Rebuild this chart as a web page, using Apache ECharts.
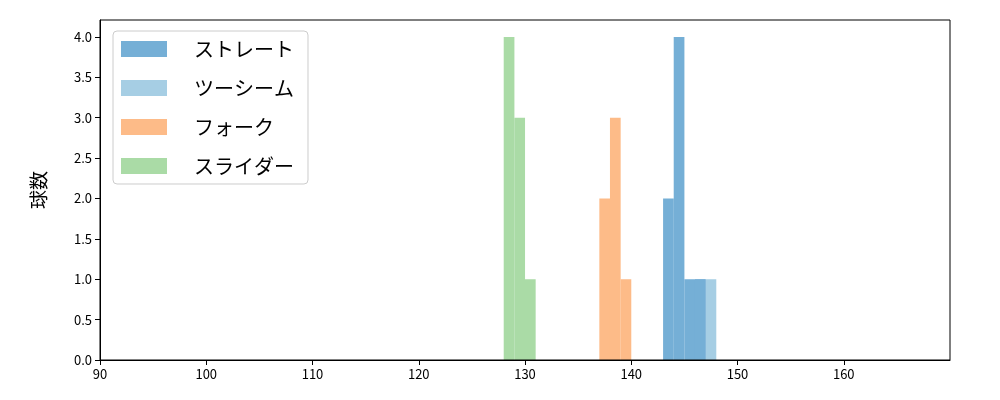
<!DOCTYPE html>
<html><head><meta charset="utf-8">
<script src="https://cdn.jsdelivr.net/npm/echarts@6/dist/echarts.min.js"></script>
<style>html,body{margin:0;padding:0;background:#fff}#c{width:1000px;height:400px}</style>
</head><body><div id="c"></div>
<script>
const names = ['ストレート','ツーシーム','フォーク','スライダー'];
const colors = ['#75afd6','#a6cee4','#fdbb88','#aadba6'];
const straight = [[143.5,2],[144.5,4],[145.5,1],[146.5,1]];
const twoSeam = [[146.5,1],[147.5,1]];
const fork = [[137.5,2],[138.5,3],[139.5,1]];
const slider = [[128.5,4],[129.5,3],[130.5,1]];
const seriesData = [straight, twoSeam, fork, slider];
const xTicks = [90,100,110,120,130,140,150,160];
const yTicks = [0,0.5,1,1.5,2,2.5,3,3.5,4];
const chart = echarts.init(document.getElementById('c'));
const font = "'Noto Sans CJK JP', 'DejaVu Sans', sans-serif";
chart.setOption({
  animation:false,
  textStyle:{fontFamily:font},
  grid:{left:100,right:50,top:20,bottom:40},
  legend:{
    orient:'vertical', left:113, top:31, itemWidth:46, itemHeight:16, itemGap:19, icon:'rect',
    padding:[8,14,8,8], borderColor:'#ccc', borderWidth:1, borderRadius:4,
    textStyle:{fontSize:20, color:'#000', fontFamily:font, padding:[0,0,0,22]},
    data:names.map((n,i)=>({name:n, itemStyle:{color:colors[i]}}))
  },
  xAxis:{type:'value', min:90, max:170, interval:10,
    axisLine:{lineStyle:{color:'#000'}},
    axisTick:{lineStyle:{color:'#000'},length:5, customValues:xTicks},
    splitLine:{show:false},
    axisLabel:{color:'#000', fontSize:13, customValues:xTicks}},
  yAxis:{type:'value', min:0, max:4.21, interval:0.5, name:'球数', nameLocation:'middle', nameGap:52,
    nameTextStyle:{fontSize:19, color:'#000'},
    axisLine:{show:true, lineStyle:{color:'#000'}},
    axisTick:{show:true, lineStyle:{color:'#000'},length:5, customValues:yTicks},
    splitLine:{show:false},
    axisLabel:{color:'#000', fontSize:13, customValues:yTicks, formatter:v=>Number(v).toFixed(1)}},
  series: seriesData.map((d,i)=>({
    name:names[i], type:'bar', barWidth:10.7, barGap:'-100%', z:i===1?1:2,
    data:d.map(p=>(i===1&&p[0]===146.5)?{value:p,itemStyle:{color:'#84b3d9'}}:p),
    itemStyle:{color:colors[i]}
  })),
  graphic:[{type:'rect', shape:{x:100,y:20,width:850,height:340}, style:{fill:'none', stroke:'#000', lineWidth:1}, silent:true, z:100}]
});
</script></body></html>
